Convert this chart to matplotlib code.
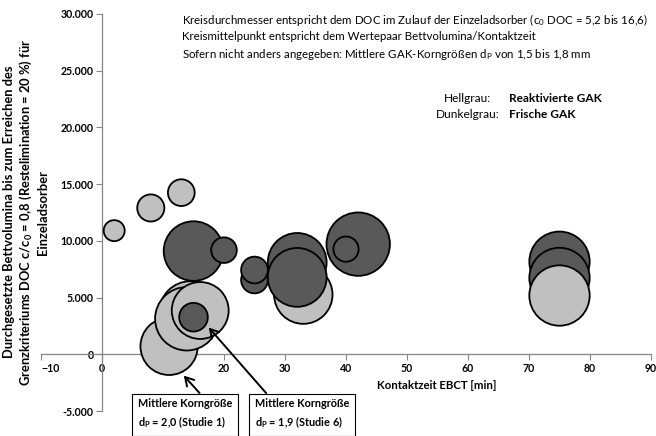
import numpy as np
import matplotlib
matplotlib.use('Agg')
import matplotlib.pyplot as plt
from matplotlib.ticker import FuncFormatter

plt.rcParams['font.family'] = ['Lato', 'DejaVu Sans']
plt.rcParams['mathtext.fontset'] = 'custom'
plt.rcParams['mathtext.rm'] = 'Lato'
plt.rcParams['mathtext.bf'] = 'Lato:bold'
plt.rcParams['mathtext.it'] = 'Lato:italic'

# data (in drawing order, later bubbles sit on top)
ebct = [2, 8, 13, 15, 20, 25, 25, 33, 32, 32, 42, 40, 75, 75, 75, 11, 14.5, 13.9, 16.1, 15]
bettvolumina = [10900, 12900, 14250, 9100, 9180, 6550, 7430, 5260, 8100, 6780,
                9710, 9270, 8160, 6730, 5180, 700, 3700, 3130, 3860, 3270]
doc_zulauf = [5.5, 7.1, 7.0, 15.6, 6.7, 7.0, 7.0, 15.3, 15.4, 15.4,
              16.6, 6.6, 15.8, 15.8, 15.8, 15.0, 16.3, 16.6, 14.9, 7.5]
frisch = [0, 0, 0, 1, 1, 1, 1, 0, 1, 1, 1, 1, 1, 1, 0, 0, 0, 0, 0, 1]  # 1 = frische GAK

x_ticks = [-10, 0, 10, 20, 30, 40, 50, 60, 70, 80, 90]
y_ticks = [-5000, 0, 5000, 10000, 15000, 20000, 25000, 30000]

hellgrau = '#c0c0c0'
dunkelgrau = '#595959'
achse = '#868686'

fig = plt.figure(figsize=(6.56, 4.36), dpi=100)
ax = fig.add_axes([41/656, 1-411/436, 610/656, 397/436])

# bubble diameter ~ DOC im Zulauf
sizes = (2.75*np.array(doc_zulauf))**2
colors = [dunkelgrau if f else hellgrau for f in frisch]
ax.scatter(ebct, bettvolumina, s=sizes, c=colors, edgecolors='black', linewidths=1.3, zorder=3)

ax.set_xlim(-10, 90)
ax.set_ylim(-5000, 30000)
ax.set_xticks(x_ticks)
ax.set_yticks(y_ticks)
ax.yaxis.set_major_formatter(FuncFormatter(lambda v, p: f"{v:,.0f}".replace(',', '.')))

for s in ['top', 'right']:
    ax.spines[s].set_visible(False)
ax.spines['left'].set_position(('data', 0))
ax.spines['bottom'].set_position(('data', 0))
for s in ['left', 'bottom']:
    ax.spines[s].set_color(achse)
    ax.spines[s].set_linewidth(0.9)
ax.tick_params(direction='out', length=4, width=0.8, color=achse, labelsize=7.6, pad=2)
for lab in ax.get_xticklabels() + ax.get_yticklabels():
    lab.set_fontweight('bold')
# first x label kept inside the plot area (like Excel does)
ax.xaxis.get_major_ticks()[0].label1.set_horizontalalignment('left')

# axis titles (y title one text per line)
ylab = ["Durchgesetzte Bettvolumina bis zum Erreichen des",
        "Grenzkriteriums DOC c/c$_\\mathbf{0}$ = 0,8 (Restelimination = 20 %) für",
        "Einzeladsorber"]
for xp, t in zip([9, 26, 43], ylab):
    fig.text(xp/656, 1-212/436, t, rotation=90, ha='center', va='center',
             fontsize=9.3, fontweight='bold')
fig.text(437/656, 1-385/436, "Kontaktzeit EBCT [min]", ha='center', va='center',
         fontsize=8.2, fontweight='bold')

# info text
info = ["Kreisdurchmesser entspricht dem DOC im Zulauf der Einzeladsorber (c$_\\mathrm{0}$ DOC = 5,2 bis 16,6)",
        "Kreismittelpunkt entspricht dem Wertepaar Bettvolumina/Kontaktzeit",
        "Sofern nicht anders angegeben: Mittlere GAK-Korngrößen d$_\\mathrm{P}$ von 1,5 bis 1,8 mm"]
for i, t in enumerate(info):
    fig.text(182/656, 1-(20+17*i)/436, t, ha='left', va='center', fontsize=8.3)

fig.text(444/656, 1-99/436, "Hellgrau:", ha='left', va='center', fontsize=8.6)
fig.text(509/656, 1-99/436, "Reaktivierte GAK", ha='left', va='center', fontsize=8.6, fontweight='bold')
fig.text(436/656, 1-115/436, "Dunkelgrau:", ha='left', va='center', fontsize=8.6)
fig.text(509/656, 1-115/436, "Frische GAK", ha='left', va='center', fontsize=8.6, fontweight='bold')

# annotation boxes + arrows
box = dict(boxstyle='square,pad=0.55', fc='white', ec='black', lw=0.8)
fig.text(138/656, 1-414/436, "Mittlere Korngröße\nd$_\\mathbf{P}$ = 2,0 (Studie 1)",
         ha='left', va='center', fontsize=7.8, fontweight='bold', linespacing=1.5, bbox=box)
fig.text(255/656, 1-414/436, "Mittlere Korngröße\nd$_\\mathbf{P}$ = 1,9 (Studie 6)",
         ha='left', va='center', fontsize=7.8, fontweight='bold', linespacing=1.5, bbox=box)

arrow = dict(arrowstyle='->,head_length=0.6,head_width=0.35', color='black', lw=1.4)
ax.annotate('', xy=(13.1, -1700), xytext=(16.3, -3600), arrowprops=arrow, annotation_clip=False)
ax.annotate('', xy=(17.2, 2540), xytext=(27.2, -3600), arrowprops=arrow, annotation_clip=False)

fig.savefig('out.png', dpi=100)
